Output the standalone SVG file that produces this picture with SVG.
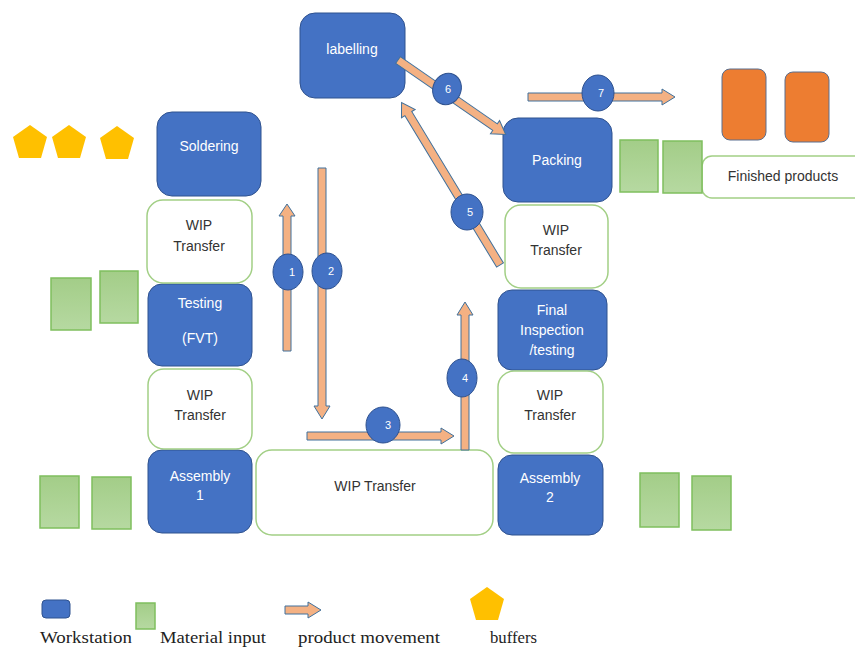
<svg xmlns="http://www.w3.org/2000/svg" width="855" height="648" viewBox="0 0 855 648">
  <defs>
    <linearGradient id="matGrad" x1="0" y1="0" x2="0" y2="1">
      <stop offset="0" stop-color="#A3CD88"/>
      <stop offset="1" stop-color="#B6D9A1"/>
    </linearGradient>
    <style>
      .ws { fill: #4472C4; stroke: #2F528F; stroke-width: 1; }
      .wip { fill: #FFFFFF; stroke: #A2CF85; stroke-width: 1.5; }
      .mat { fill: url(#matGrad); stroke: #7FBF5E; stroke-width: 1.5; }
      .prod { fill: #ED7D31; stroke: #5A6F8F; stroke-width: 1; }
      .buf { fill: #FFC000; }
      .arr { fill: #F4B183; stroke: #41719C; stroke-width: 1; }
      .num { fill: #4472C4; stroke: #2F528F; stroke-width: 1; }
      .numt { font-family: "Liberation Sans", Arial, sans-serif; font-size: 11px; fill: #FFFFFF; text-anchor: middle; }
      .wt { font-family: "Liberation Sans", Arial, sans-serif; font-size: 14px; fill: #FFFFFF; text-anchor: middle; }
      .dt { font-family: "Liberation Sans", Arial, sans-serif; font-size: 14px; fill: #333333; text-anchor: middle; }
      .lg { font-family: "Liberation Serif", "Times New Roman", serif; font-size: 17px; fill: #222222; }
    </style>
  </defs>

  <rect width="855" height="648" fill="#FFFFFF"/>

  <!-- buffers -->
  <g id="buffers">
    <polygon class="buf" points="30,125 47,137 41,158 19,158 13,137"/>
    <polygon class="buf" points="69,125 86,137 80,158 58,158 52,137"/>
    <polygon class="buf" points="117,126 134,138 128,159 106,159 100,138"/>
  </g>

  <!-- workstations -->
  <g id="labelling">
    <rect class="ws" x="300" y="13" width="105" height="85" rx="15"/>
    <text class="wt" x="352" y="54">labelling</text>
  </g>
  <g id="soldering">
    <rect class="ws" x="157" y="112" width="104" height="84" rx="15"/>
    <text class="wt" x="209" y="151">Soldering</text>
  </g>
  <g id="testing">
    <rect class="ws" x="148" y="284" width="104" height="82" rx="14"/>
    <text class="wt" x="200" y="308">Testing</text>
    <text class="wt" x="200" y="343">(FVT)</text>
  </g>
  <g id="assembly1">
    <rect class="ws" x="148" y="450" width="104" height="83" rx="14"/>
    <text class="wt" x="200" y="481">Assembly</text>
    <text class="wt" x="200" y="500">1</text>
  </g>
  <g id="packing">
    <rect class="ws" x="503" y="118" width="109" height="84" rx="15"/>
    <text class="wt" x="557" y="165">Packing</text>
  </g>
  <g id="final-inspection">
    <rect class="ws" x="498" y="290" width="109" height="80" rx="14"/>
    <text class="wt" x="552" y="315">Final</text>
    <text class="wt" x="552" y="335">Inspection</text>
    <text class="wt" x="552" y="355">/testing</text>
  </g>
  <g id="assembly2">
    <rect class="ws" x="498" y="455" width="105" height="80" rx="14"/>
    <text class="wt" x="550" y="483">Assembly</text>
    <text class="wt" x="550" y="502">2</text>
  </g>

  <!-- WIP transfer areas -->
  <g id="wip-soldering-testing">
    <rect class="wip" x="147" y="200" width="105" height="83" rx="16"/>
    <text class="dt" x="199" y="230">WIP</text>
    <text class="dt" x="199" y="251">Transfer</text>
  </g>
  <g id="wip-testing-assembly1">
    <rect class="wip" x="148" y="369" width="104" height="80" rx="16"/>
    <text class="dt" x="200" y="400">WIP</text>
    <text class="dt" x="200" y="420">Transfer</text>
  </g>
  <g id="wip-main">
    <rect class="wip" x="256" y="450" width="237" height="85" rx="16"/>
    <text class="dt" x="375" y="491">WIP Transfer</text>
  </g>
  <g id="wip-packing-inspection">
    <rect class="wip" x="505" y="205" width="103" height="83" rx="16"/>
    <text class="dt" x="556" y="235">WIP</text>
    <text class="dt" x="556" y="255">Transfer</text>
  </g>
  <g id="wip-inspection-assembly2">
    <rect class="wip" x="498" y="371" width="105" height="82" rx="16"/>
    <text class="dt" x="550" y="400">WIP</text>
    <text class="dt" x="550" y="420">Transfer</text>
  </g>
  <g id="finished-products">
    <rect class="wip" x="702" y="156" width="165" height="42" rx="10"/>
    <text class="dt" x="783" y="181">Finished products</text>
  </g>

  <!-- material inputs -->
  <g id="material-testing">
    <rect class="mat" x="51" y="278" width="40" height="52"/>
    <rect class="mat" x="100" y="271" width="38" height="52"/>
  </g>
  <g id="material-assembly1">
    <rect class="mat" x="40" y="476" width="39" height="52"/>
    <rect class="mat" x="92" y="477" width="39" height="52"/>
  </g>
  <g id="material-packing">
    <rect class="mat" x="620" y="140" width="38" height="52"/>
    <rect class="mat" x="663" y="141" width="39" height="52"/>
  </g>
  <g id="material-assembly2">
    <rect class="mat" x="640" y="473" width="39" height="54"/>
    <rect class="mat" x="692" y="476" width="39" height="54"/>
  </g>

  <!-- finished goods -->
  <g id="products">
    <rect class="prod" x="722" y="69" width="44" height="71" rx="8"/>
    <rect class="prod" x="785" y="72" width="44" height="70" rx="8"/>
  </g>

  <!-- product movement -->
  <g id="connectors">
    <!-- 1: testing up to soldering -->
    <polygon class="arr" points="283,351 291,351 291,216 295,216 287,204 279,216 283,216"/>
    <ellipse class="num" cx="288" cy="272" rx="15" ry="18"/>
    <text class="numt" x="292" y="276">1</text>

    <!-- 2: soldering down to WIP -->
    <polygon class="arr" points="318,168 326,168 326,406 330,406 322,419 314,406 318,406"/>
    <ellipse class="num" cx="327" cy="271" rx="15" ry="18"/>
    <text class="numt" x="331" y="275">2</text>

    <!-- 3: along WIP transfer -->
    <polygon class="arr" points="307,432 441,432 441,428 454,436 441,444 441,440 307,440"/>
    <ellipse class="num" cx="383" cy="425" rx="17" ry="18"/>
    <text class="numt" x="388" y="429">3</text>

    <!-- 4: up to final inspection -->
    <polygon class="arr" points="461,450 469,450 469,315 473,315 465,302 457,315 461,315"/>
    <ellipse class="num" cx="462" cy="378" rx="15" ry="19"/>
    <text class="numt" x="465" y="382">4</text>

    <!-- 5: WIP up to labelling -->
    <g transform="translate(500,265) rotate(-121.2)">
      <polygon class="arr" points="0,-4 177,-4 177,-8 190,0 177,8 177,4 0,4"/>
    </g>
    <ellipse class="num" cx="467" cy="212" rx="16" ry="18"/>
    <text class="numt" x="470" y="216">5</text>

    <!-- 6: labelling to packing -->
    <g transform="translate(398,60) rotate(34.7)">
      <polygon class="arr" points="0,-4 118,-4 118,-8 131,0 118,8 118,4 0,4"/>
    </g>
    <ellipse class="num" cx="447" cy="89" rx="14" ry="16" transform="rotate(25 447 89)"/>
    <text class="numt" x="448" y="93">6</text>

    <!-- 7: packing out to finished goods -->
    <polygon class="arr" points="528,93 662,93 662,89 675,97 662,105 662,101 528,101"/>
    <ellipse class="num" cx="598" cy="93" rx="16" ry="18"/>
    <text class="numt" x="601" y="97">7</text>
  </g>

  <!-- legend -->
  <g id="legend">
    <rect class="ws" x="42" y="600" width="28" height="18" rx="4"/>
    <rect class="mat" x="136" y="603" width="19" height="26"/>
    <polygon class="arr" points="285,606 308,606 308,602 321,610 308,618 308,614 285,614"/>
    <polygon class="buf" points="487,587 504,599 498,620 476,620 470,599"/>
    <text class="lg" x="40" y="643" textLength="92" lengthAdjust="spacingAndGlyphs">Workstation</text>
    <text class="lg" x="160" y="643" textLength="106" lengthAdjust="spacingAndGlyphs">Material input</text>
    <text class="lg" x="298" y="643" textLength="142" lengthAdjust="spacingAndGlyphs">product movement</text>
    <text class="lg" x="490" y="643" textLength="47" lengthAdjust="spacingAndGlyphs">buffers</text>
  </g>
</svg>
